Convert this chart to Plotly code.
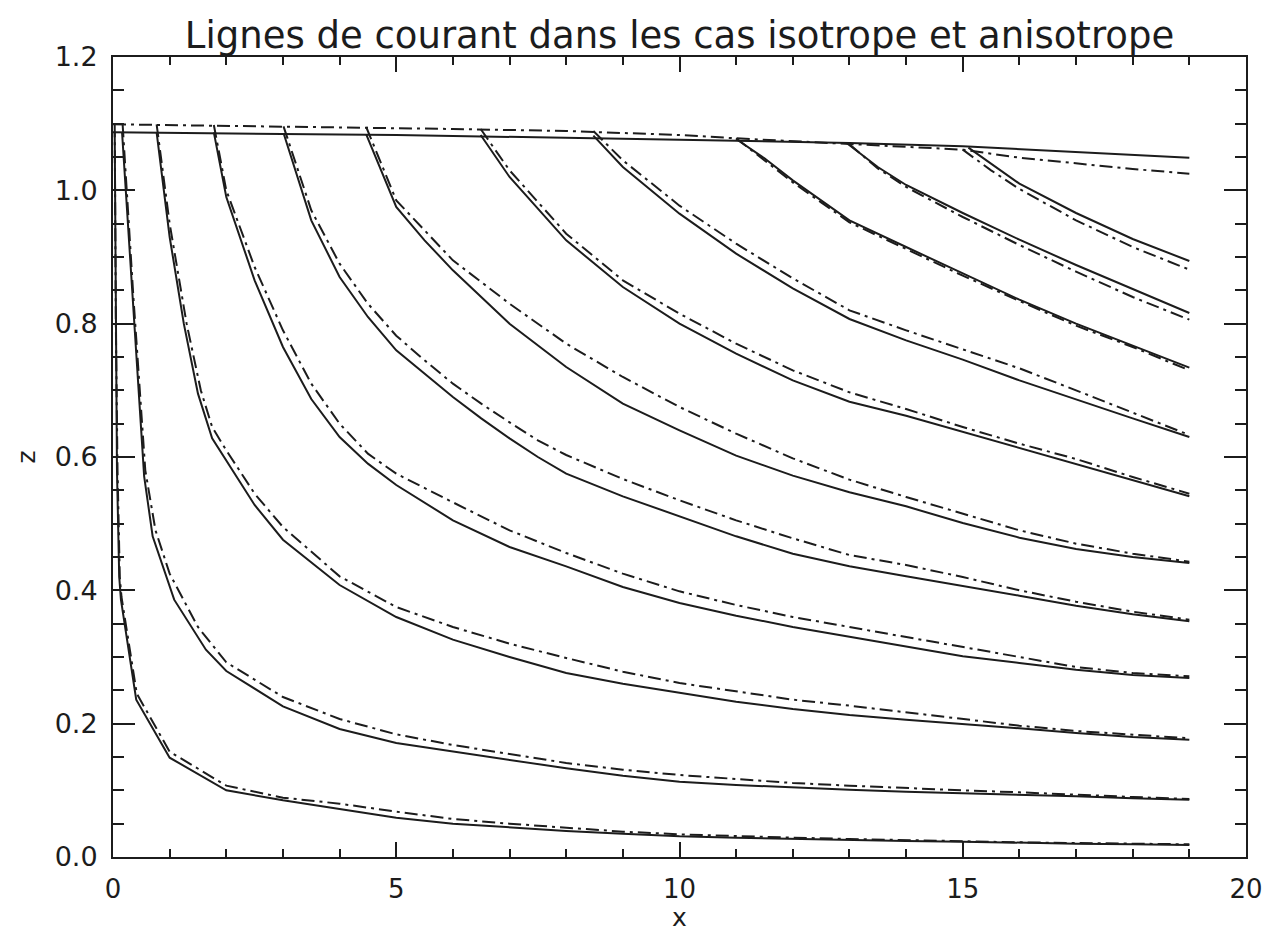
import plotly.graph_objects as go

# ---------------- data ----------------
# Isotropic case (solid lines)
iso0_x = [0, 5, 10, 13, 15, 17, 19]
iso0_z = [1.087, 1.083, 1.076, 1.071, 1.066, 1.058, 1.049]

iso1_x = [0.03, 0.05, 0.07, 0.11, 0.14, 0.41, 1, 2, 3, 4, 5, 6, 7, 8, 9, 10, 11, 12, 13, 14, 15, 16, 17, 18, 19]
iso1_z = [1.087, 0.80, 0.58, 0.42, 0.386, 0.236, 0.149, 0.100, 0.085, 0.072, 0.059, 0.050, 0.044, 0.039, 0.035,
          0.031, 0.029, 0.027, 0.026, 0.024, 0.023, 0.021, 0.020, 0.019, 0.018]

iso2_x = [0.16, 0.35, 0.55, 0.7, 1.08, 1.64, 2, 3, 4, 5, 6, 7, 8, 9, 10, 11, 12, 13, 14, 15, 16, 17, 18, 19]
iso2_z = [1.087, 0.836, 0.571, 0.481, 0.386, 0.311, 0.279, 0.226, 0.192, 0.171, 0.158, 0.145, 0.133, 0.122,
          0.113, 0.108, 0.104, 0.101, 0.098, 0.096, 0.093, 0.091, 0.088, 0.086]

iso3_x = [0.77, 1, 1.25, 1.5, 1.75, 2, 2.5, 3, 4, 5, 6, 7, 8, 9, 10, 11, 12, 13, 14, 15, 16, 17, 18, 19]
iso3_z = [1.087, 0.93, 0.80, 0.695, 0.628, 0.595, 0.528, 0.476, 0.408, 0.36, 0.326, 0.30, 0.276, 0.26,
          0.246, 0.233, 0.222, 0.213, 0.206, 0.20, 0.193, 0.186, 0.18, 0.176]

iso4_x = [1.78, 2, 2.5, 3, 3.5, 4, 4.5, 5, 6, 7, 8, 9, 10, 11, 12, 13, 14, 15, 16, 17, 18, 19]
iso4_z = [1.087, 0.99, 0.865, 0.765, 0.687, 0.63, 0.59, 0.558, 0.505, 0.465, 0.436, 0.405, 0.381, 0.362,
          0.345, 0.33, 0.315, 0.301, 0.291, 0.281, 0.273, 0.2685]

iso5_x = [3.01, 3.5, 4, 4.5, 5, 5.5, 6, 6.5, 7, 7.5, 8, 9, 10, 11, 12, 13, 14, 15, 16, 17, 18, 19]
iso5_z = [1.086, 0.955, 0.87, 0.81, 0.76, 0.725, 0.69, 0.658, 0.628, 0.60, 0.575, 0.541, 0.511, 0.481,
          0.455, 0.436, 0.421, 0.407, 0.392, 0.377, 0.364, 0.3535]

iso6_x = [4.47, 5, 5.5, 6, 7, 8, 9, 10, 11, 12, 13, 14, 15, 16, 17, 18, 19]
iso6_z = [1.084, 0.975, 0.925, 0.88, 0.80, 0.735, 0.68, 0.64, 0.602, 0.572, 0.547, 0.526, 0.501, 0.479,
          0.462, 0.45, 0.441]

iso7_x = [6.49, 7, 8, 9, 10, 11, 12, 13, 14, 15, 16, 17, 18, 19]
iso7_z = [1.083, 1.02, 0.925, 0.855, 0.80, 0.755, 0.715, 0.683, 0.662, 0.638, 0.613, 0.589, 0.565, 0.541]

iso8_x = [8.48, 9, 10, 11, 12, 13, 14, 15, 16, 17, 18, 19]
iso8_z = [1.082, 1.035, 0.965, 0.905, 0.853, 0.807, 0.775, 0.746, 0.715, 0.686, 0.658, 0.630]

iso9_x = [11, 11.5, 12, 12.5, 13, 14, 15, 16, 17, 18, 19]
iso9_z = [1.077, 1.048, 1.015, 0.985, 0.955, 0.915, 0.876, 0.836, 0.80, 0.767, 0.734]

iso10_x = [12.95, 13.5, 14, 15, 16, 17, 18, 19]
iso10_z = [1.071, 1.035, 1.008, 0.966, 0.926, 0.888, 0.852, 0.816]

iso11_x = [15.1, 15.5, 16, 17, 18, 19]
iso11_z = [1.064, 1.04, 1.01, 0.966, 0.927, 0.894]

# Anisotropic case (dash-dot lines)
ani0_x = [0, 2, 4, 6, 8, 10, 11, 12, 13, 14, 15, 16, 17, 18, 19]
ani0_z = [1.099, 1.097, 1.095, 1.092, 1.089, 1.083, 1.078, 1.074, 1.069, 1.065, 1.061, 1.049, 1.040, 1.032, 1.025]

ani1_x = [0.03, 0.05, 0.08, 0.12, 0.15, 0.42, 1, 2, 3, 4, 5, 6, 7, 8, 9, 10, 11, 12, 13, 14, 15, 16, 17, 18, 19]
ani1_z = [1.099, 0.80, 0.58, 0.42, 0.39, 0.245, 0.158, 0.107, 0.089, 0.08, 0.068, 0.057, 0.05, 0.044, 0.038,
          0.034, 0.031, 0.029, 0.027, 0.025, 0.024, 0.022, 0.021, 0.02, 0.019]

ani2_x = [0.17, 0.36, 0.57, 0.75, 1, 1.5, 2, 3, 4, 5, 6, 7, 8, 9, 10, 11, 12, 13, 14, 15, 16, 17, 18, 19]
ani2_z = [1.099, 0.84, 0.58, 0.49, 0.425, 0.345, 0.292, 0.24, 0.207, 0.184, 0.168, 0.154, 0.141, 0.131,
          0.123, 0.117, 0.111, 0.107, 0.103, 0.1, 0.097, 0.093, 0.09, 0.087]

ani3_x = [0.77, 1, 1.3, 1.55, 1.75, 2, 2.5, 3, 4, 5, 6, 7, 8, 9, 10, 11, 12, 13, 14, 15, 16, 17, 18, 19]
ani3_z = [1.099, 0.95, 0.80, 0.70, 0.645, 0.61, 0.545, 0.495, 0.421, 0.375, 0.345, 0.32, 0.2985, 0.278,
          0.261, 0.248, 0.236, 0.227, 0.217, 0.207, 0.197, 0.189, 0.183, 0.178]

ani4_x = [1.78, 2, 2.5, 3, 3.5, 4, 4.5, 5, 6, 7, 8, 9, 10, 11, 12, 13, 14, 15, 16, 17, 18, 19]
ani4_z = [1.098, 1.00, 0.885, 0.79, 0.71, 0.65, 0.605, 0.575, 0.532, 0.49, 0.456, 0.425, 0.3985, 0.378,
          0.36, 0.345, 0.33, 0.316, 0.3, 0.285, 0.276, 0.271]

ani5_x = [3.01, 3.5, 4, 4.5, 5, 5.5, 6, 6.5, 7, 7.5, 8, 9, 10, 11, 12, 13, 14, 15, 16, 17, 18, 19]
ani5_z = [1.096, 0.97, 0.89, 0.83, 0.782, 0.745, 0.71, 0.68, 0.652, 0.625, 0.603, 0.567, 0.535, 0.505,
          0.478, 0.453, 0.438, 0.42, 0.40, 0.383, 0.368, 0.356]

ani6_x = [4.47, 5, 6, 7, 8, 9, 10, 11, 12, 13, 14, 15, 16, 17, 18, 19]
ani6_z = [1.095, 0.985, 0.895, 0.83, 0.77, 0.72, 0.675, 0.635, 0.598, 0.566, 0.54, 0.515, 0.49, 0.47,
          0.455, 0.443]

ani7_x = [6.49, 7, 8, 9, 10, 11, 12, 13, 14, 15, 16, 17, 18, 19]
ani7_z = [1.092, 1.03, 0.935, 0.865, 0.815, 0.77, 0.73, 0.697, 0.672, 0.645, 0.62, 0.597, 0.57, 0.545]

ani8_x = [8.48, 9, 10, 11, 12, 13, 14, 15, 16, 17, 18, 19]
ani8_z = [1.089, 1.045, 0.977, 0.92, 0.868, 0.82, 0.79, 0.761, 0.733, 0.70, 0.666, 0.633]

ani9_x = [11, 11.5, 12, 12.5, 13, 14, 15, 16, 17, 18, 19]
ani9_z = [1.078, 1.045, 1.012, 0.982, 0.952, 0.912, 0.872, 0.834, 0.797, 0.765, 0.73]

ani10_x = [13, 13.5, 14, 15, 16, 17, 18, 19]
ani10_z = [1.069, 1.033, 1.005, 0.96, 0.918, 0.878, 0.84, 0.806]

ani11_x = [15, 15.5, 16, 17, 18, 19]
ani11_z = [1.061, 1.03, 1.002, 0.955, 0.915, 0.881]

x_ticks = [0, 5, 10, 15, 20]
z_ticks = [0.0, 0.2, 0.4, 0.6, 0.8, 1.0, 1.2]

title_text = "Lignes de courant dans les cas isotrope et anisotrope"

# ---------------- figure ----------------
iso_curves = [(iso0_x, iso0_z), (iso1_x, iso1_z), (iso2_x, iso2_z), (iso3_x, iso3_z),
              (iso4_x, iso4_z), (iso5_x, iso5_z), (iso6_x, iso6_z), (iso7_x, iso7_z),
              (iso8_x, iso8_z), (iso9_x, iso9_z), (iso10_x, iso10_z), (iso11_x, iso11_z)]
ani_curves = [(ani0_x, ani0_z), (ani1_x, ani1_z), (ani2_x, ani2_z), (ani3_x, ani3_z),
              (ani4_x, ani4_z), (ani5_x, ani5_z), (ani6_x, ani6_z), (ani7_x, ani7_z),
              (ani8_x, ani8_z), (ani9_x, ani9_z), (ani10_x, ani10_z), (ani11_x, ani11_z)]

INK = "#1c1c1c"
FONT = "DejaVu Sans"

fig = go.Figure()
for xs, zs in iso_curves:
    fig.add_trace(go.Scatter(x=xs, y=zs, mode="lines", showlegend=False, hoverinfo="skip",
                             line=dict(color=INK, width=2)))
for xs, zs in ani_curves:
    fig.add_trace(go.Scatter(x=xs, y=zs, mode="lines", showlegend=False, hoverinfo="skip",
                             line=dict(color=INK, width=2, dash="13px,5px,3px,5px")))

fig.update_layout(
    width=1265, height=932,
    margin=dict(l=113, r=19, t=57, b=75, autoexpand=False),
    paper_bgcolor="white", plot_bgcolor="white",
    font=dict(family=FONT, color=INK),
    title=dict(text=title_text, x=0.5, xref="paper", xanchor="center",
               y=1 - 35 / 932, yref="container", yanchor="middle",
               font=dict(family=FONT, size=37, color=INK), automargin=False),
)
fig.update_xaxes(
    range=[0, 20.0001], tickvals=x_ticks, ticks="inside", ticklen=15, tickwidth=2, tickcolor=INK,
    showline=True, linewidth=2, linecolor=INK, mirror="ticks", automargin=False,
    showgrid=False, zeroline=False, ticklabeloverflow="allow", ticklabelstandoff=8,
    minor=dict(dtick=1, tick0=0, ticks="inside", ticklen=8, tickwidth=1.5, tickcolor=INK, showgrid=False),
    tickfont=dict(family=FONT, size=26, color=INK),
    title=dict(text="x", font=dict(family=FONT, size=25, color=INK), standoff=8),
)
fig.update_yaxes(
    range=[0, 1.2], tickvals=z_ticks, tickformat=".1f", ticks="inside", ticklen=22, tickwidth=2,
    tickcolor=INK, showline=True, linewidth=2, linecolor=INK, mirror="ticks", automargin=False,
    showgrid=False, zeroline=False, ticklabeloverflow="allow", ticklabelstandoff=8,
    minor=dict(dtick=0.05, tick0=0, ticks="inside", ticklen=11, tickwidth=1.5, tickcolor=INK, showgrid=False),
    tickfont=dict(family=FONT, size=27, color=INK),
    title=dict(text="z", font=dict(family=FONT, size=25, color=INK), standoff=12),
)

fig.write_html("out.html", config={"displayModeBar": False},
               post_script="document.body.style.margin='0';document.body.style.overflow='hidden';")
